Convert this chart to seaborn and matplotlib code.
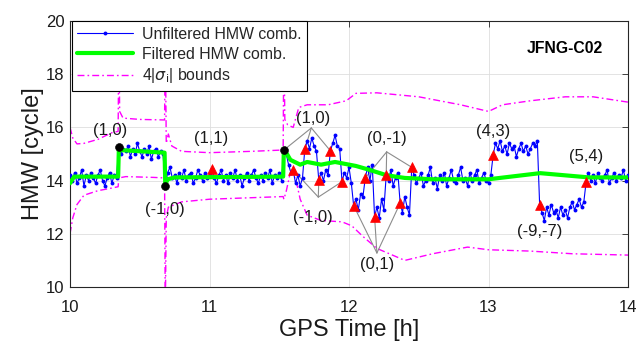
import numpy as np
import pandas as pd
import matplotlib
matplotlib.use("Agg")
import matplotlib.pyplot as plt
import seaborn as sns
from matplotlib.lines import Line2D

# ---------------- data ----------------
t0_hour = 10.0
step_min = 1.0  # one sample per minute

seg0 = [14.2, 14.0, 14.3, 13.9, 14.1, 14.4, 13.8, 14.2, 14.0, 14.3, 14.1, 13.9, 14.2, 14.4, 14.0,
        13.8, 14.1, 14.3, 13.9, 14.2, 14.1]
seg1 = [15.26, 15.0, 15.2, 15.1, 15.3, 14.9, 15.2, 15.0, 15.4, 15.1, 14.9, 15.2, 15.0, 15.3, 14.8,
        15.1, 15.2, 14.9, 15.1, 15.0]
seg2 = [13.80, 14.3, 14.5, 14.1, 14.2, 13.9, 14.3, 14.1, 14.4, 14.0, 14.2, 14.3, 13.9, 14.1, 14.4,
        14.2, 14.0, 14.3, 14.1, 14.2, 14.43, 14.1, 13.9, 14.2, 14.4, 14.0, 14.2, 13.9, 14.3, 14.1,
        14.4, 14.0, 14.2, 13.8, 14.1, 14.3, 14.0, 14.2, 14.4, 14.1, 13.9, 14.2, 14.0, 14.3, 14.1,
        14.4, 13.9, 14.2, 14.1, 14.3, 14.0]
seg3 = [15.15, 15.0, 14.6, 14.3,
        14.40, 13.9, 14.2, 13.8, 14.1,
        15.19, 15.5, 15.2, 15.6, 15.3, 15.1,
        14.02, 14.3, 14.0, 14.4, 14.2,
        15.12, 15.4, 15.7, 15.3, 15.2,
        13.96, 14.3, 14.1, 14.5, 13.9,
        13.06, 13.3, 12.9, 13.5, 13.4,
        14.10, 14.5, 14.0, 14.6,
        12.64, 13.0, 12.6, 13.3, 12.9,
        14.20, 14.0, 14.4, 13.8, 14.1, 14.3,
        13.15, 12.8, 13.4, 13.0, 12.7,
        14.50]
seg4 = [14.2, 13.9, 14.1, 14.3, 13.8, 14.0, 14.2, 14.5, 13.9, 14.1, 13.7, 14.2, 14.0, 14.3, 13.8,
        14.1, 14.4, 14.0, 13.9, 14.2, 14.5, 14.0, 14.1, 13.8, 14.3, 14.0, 14.2, 14.4, 13.9, 14.1,
        14.3, 14.0, 13.9, 14.2]
seg5 = [14.96, 15.4, 15.2, 15.5, 15.1, 15.3, 15.0, 15.4, 15.2, 15.3, 14.9, 15.2, 15.4, 15.1, 15.3,
        15.0, 15.2, 15.4, 15.3, 15.5]
seg6 = [13.08, 12.8, 12.5, 13.0, 12.7, 13.1, 12.8, 12.9, 12.6, 13.0, 12.7, 12.9, 12.6, 13.0, 13.2,
        12.9, 13.1, 13.3, 13.0, 13.2]
seg7 = [13.96, 14.3, 14.0, 14.2, 13.9, 14.3, 14.1, 14.0, 14.2, 14.4, 13.9, 14.1, 14.3, 14.0, 14.2,
        14.1, 14.4, 14.0, 14.2]

unfilt = seg0 + seg1 + seg2 + seg3 + seg4 + seg5 + seg6 + seg7
unfilt_t = [t0_hour + i * step_min / 60.0 for i in range(len(unfilt))]

filt_t = [10.0, 10.03, 10.345, 10.35, 10.45, 10.678, 10.683, 10.70, 10.75, 11.528, 11.533, 11.55,
          11.58, 11.65, 11.7, 11.8, 11.9, 12.05, 12.15, 12.27, 12.4, 12.6, 13.0, 13.37, 13.72, 14.0]
filt_v = [13.9, 14.15, 14.15, 15.15, 15.12, 15.05, 13.85, 14.05, 14.12, 14.15, 15.15, 15.05,
          14.78, 14.6, 14.7, 14.6, 14.7, 14.55, 14.4, 14.2, 14.1, 14.05, 14.05, 14.28, 14.12, 14.12]

upper_t = [10.0, 10.02, 10.05, 10.1, 10.2, 10.3, 10.345, 10.35, 10.356, 10.38, 10.5, 10.678, 10.683,
           10.69, 10.705, 10.73, 10.8, 11.0, 11.3, 11.528, 11.533, 11.54, 11.56, 11.6, 11.64, 11.7,
           11.85, 11.98, 12.05, 12.2, 12.5, 12.8, 13.0, 13.1, 13.3, 13.55, 13.75, 14.0]
upper_v = [16.0, 15.6, 15.38, 15.4, 15.55, 15.8, 15.85, 19.5, 16.6, 16.35, 16.3, 16.28, 19.5,
           15.4, 15.75, 15.3, 15.1, 15.05, 15.1, 15.15, 19.5, 16.3, 16.1, 16.0, 16.75, 16.85,
           16.85, 17.0, 17.28, 17.3, 17.15, 16.85, 16.6, 16.85, 17.0, 17.15, 17.15, 16.95]

lower_t = [10.0, 10.02, 10.05, 10.1, 10.2, 10.3, 10.345, 10.35, 10.4, 10.6, 10.678, 10.683, 10.69,
           10.705, 10.8, 11.0, 11.528, 11.533, 11.55, 11.575, 11.6, 11.625, 11.65, 11.7, 11.8,
           11.95, 12.02, 12.1, 12.2, 12.4, 12.6, 12.85, 13.0, 13.3, 13.6, 14.0]
lower_v = [12.0, 12.6, 13.1, 13.45, 13.62, 13.72, 13.77, 14.1, 14.15, 14.12, 14.1, 9.0, 12.6,
           13.0, 13.2, 13.3, 13.4, 13.3, 13.6, 14.2, 14.28, 13.9, 13.3, 12.7, 12.5,
           12.45, 12.3, 11.9, 11.45, 11.0, 11.25, 11.5, 11.4, 11.35, 11.25, 11.2]

slip_idx = [61, 96, 101, 107, 112, 117, 122, 127, 131, 136, 142, 147, 182, 202, 222]
jump_idx = [21, 41, 92]

# text labels: (label, x, y)
labels_txt = ["(1,0)", "(-1,0)", "(1,1)", "(1,0)", "(-1,0)", "(0,-1)", "(0,1)", "(4,3)", "(-9,-7)", "(5,4)"]
labels_x = [10.29, 10.68, 11.01, 11.74, 11.74, 12.27, 12.20, 13.03, 13.37, 13.70]
labels_y = [15.9, 12.9, 15.6, 16.35, 12.6, 15.6, 10.83, 15.83, 12.07, 14.9]

# grouped connector lines: vertex and target sample indices
group_vx = [11.73, 11.78, 12.27, 12.20]
group_vy = [15.98, 13.38, 15.08, 11.28]
group_targets = [[92, 101, 112], [96, 107, 117], [127, 136, 147], [122, 131, 142]]

# ---------------- plot ----------------
sns.set_theme(style="white")
plt.rcParams['font.family'] = ['Liberation Sans', 'DejaVu Sans']

fig = plt.figure(figsize=(6.44, 3.45), dpi=100)
ax = fig.add_axes([70 / 644, 58 / 345, 558 / 644, 266 / 345])

df_u = pd.DataFrame({"t": unfilt_t, "v": unfilt})
df_f = pd.DataFrame({"t": filt_t, "v": filt_v})
df_up = pd.DataFrame({"t": upper_t, "v": upper_v})
df_lo = pd.DataFrame({"t": lower_t, "v": lower_v})

blue = "#0000ff"
green = "#00ff00"
mag = "#ff00ff"
dashdot = (0, (5, 2.2, 1.2, 2.2))

sns.lineplot(data=df_up, x="t", y="v", ax=ax, color=mag, lw=1.0, estimator=None, sort=False)
sns.lineplot(data=df_lo, x="t", y="v", ax=ax, color=mag, lw=1.0, estimator=None, sort=False)
for ln in ax.lines:
    ln.set_linestyle(dashdot)

# connector lines
for vx, vy, tg in zip(group_vx, group_vy, group_targets):
    for i in tg:
        ax.plot([vx, unfilt_t[i]], [vy, unfilt[i]], color="#8c8c8c", lw=0.8, zorder=2)

sns.lineplot(data=df_u, x="t", y="v", ax=ax, color=blue, lw=0.8, marker="o", markersize=2.8,
             markeredgewidth=0, estimator=None, sort=False, zorder=3)
sns.lineplot(data=df_f, x="t", y="v", ax=ax, color=green, lw=3.0, estimator=None, sort=False, zorder=4)

df_s = pd.DataFrame({"t": [unfilt_t[i] for i in slip_idx], "v": [unfilt[i] for i in slip_idx]})
sns.scatterplot(data=df_s, x="t", y="v", ax=ax, marker="^", color="red", s=50, edgecolor="red",
                linewidth=0.5, zorder=5)
df_j = pd.DataFrame({"t": [unfilt_t[i] for i in jump_idx], "v": [unfilt[i] for i in jump_idx]})
sns.scatterplot(data=df_j, x="t", y="v", ax=ax, marker="o", color="black", s=32, edgecolor="black",
                zorder=6)

for s, x, y in zip(labels_txt, labels_x, labels_y):
    ax.text(x, y, s, ha="center", va="center", fontsize=12, color="#1a1a1a", zorder=7)

ax.text(13.55, 18.95, "JFNG-C02", ha="center", va="center", fontsize=11.3, fontweight="bold",
        color="black", zorder=7)

ax.set_xlim(10, 14)
ax.set_ylim(10, 20)
ax.set_xticks([10, 11, 12, 13, 14])
ax.set_yticks([10, 12, 14, 16, 18, 20])
ax.grid(True, color="#dedede", lw=0.6)
ax.set_axisbelow(True)
ax.tick_params(direction="in", top=True, right=True, length=4, width=0.6, color="#262626",
               labelsize=12, labelcolor="#1a1a1a", pad=4)
ax.tick_params(axis="x", pad=9)
for sp in ax.spines.values():
    sp.set_color("#262626")
    sp.set_linewidth(0.8)
ax.set_xlabel("GPS Time [h]", fontsize=17, color="#1a1a1a", labelpad=3)
ax.set_ylabel("HMW [cycle]", fontsize=17, color="#1a1a1a", labelpad=1)

handles = [
    Line2D([], [], color=blue, lw=0.8, marker="o", markersize=2.8, markevery=[1],
           markeredgewidth=0),
    Line2D([], [], color=green, lw=3.0),
    Line2D([], [], color=mag, lw=1.0, linestyle=dashdot),
]
leg = ax.legend(handles, ["Unfiltered HMW comb.", "Filtered HMW comb.", r"4|$\sigma_{\mathrm{i}}$| bounds"],
                loc="upper left", bbox_to_anchor=(0.003, 0.999), borderaxespad=0, fontsize=11.4,
                frameon=True, fancybox=False, edgecolor="black", framealpha=1, handlelength=3.5,
                labelspacing=0.3, borderpad=0.35, handletextpad=0.6)
leg.get_frame().set_linewidth(0.8)
leg.set_zorder(10)

fig.savefig("out.png", dpi=100)
